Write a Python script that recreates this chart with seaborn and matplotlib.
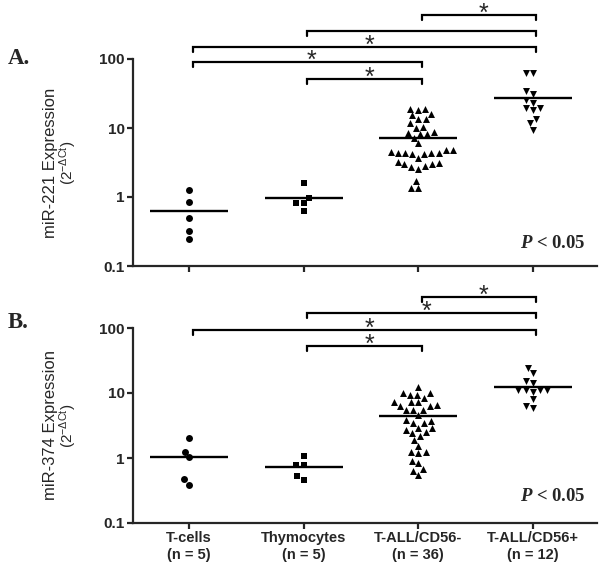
import numpy as np
import pandas as pd
import seaborn as sns
import matplotlib.pyplot as plt
from matplotlib.ticker import NullLocator
from matplotlib.transforms import blended_transform_factory

groups = ['T-cells', 'Thymocytes', 'T-ALL/CD56-', 'T-ALL/CD56+']
group_markers = ['o', 's', '^', 'v']

# miR-221 (panel A)
mir221_tcells = [1.26, 0.86, 0.49, 0.32, 0.25]
mir221_thymo = [1.6, 0.97, 0.83, 0.83, 0.62]
mir221_cd56neg = [19.1, 18.1, 19.1, 15.8, 15.3, 13.7, 13.4, 11.8, 10.1, 10.3,
                  8.7, 8.3, 8.3, 8.4, 7.2, 6.0, 4.38, 4.73, 4.38, 4.47,
                  4.23, 4.38, 4.23, 4.73, 4.38, 3.70, 3.03, 2.77, 3.09, 2.56,
                  3.19, 2.70, 2.96, 1.69, 1.35, 1.35]
mir221_cd56pos = [63.1, 61.9, 31.6, 34.5, 23.1, 25.3, 19.5, 18.1, 19.5, 13.7, 9.5, 11.8]

# miR-374 (panel B)
mir374_tcells = [2.0, 1.25, 1.02, 0.39, 0.47]
mir374_thymo = [0.78, 0.78, 1.07, 0.46, 0.52]
mir374_cd56neg = [12.2, 9.9, 9.3, 9.9, 9.3, 8.3, 7.3, 7.3, 6.5, 7.3,
                  6.2, 5.5, 5.5, 5.5, 6.2, 4.6, 3.85, 3.42, 3.75, 3.42,
                  2.93, 2.70, 2.54, 2.93, 2.18, 2.40, 1.89, 1.55, 1.25, 1.21,
                  1.25, 0.91, 0.83, 0.67, 0.64, 0.55]
mir374_cd56pos = [24, 20, 14.5, 15.5, 11, 11, 10.5, 11, 11, 8, 5.8, 6.4]

# significant comparisons (group index pairs), with / without star
pairs_a = [(2, 3, True), (1, 3, False), (0, 3, True), (0, 2, True), (1, 2, True)]
pairs_b = [(2, 3, True), (1, 3, True), (0, 3, True), (1, 2, True)]

sns.set_style('ticks')
plt.rcParams['font.family'] = ['Liberation Sans', 'DejaVu Sans']
plt.rcParams['mathtext.default'] = 'regular'


def draw_panel(ax, series, pairs, heights, mir, pval_y, show_labels):
    ax.set_yscale('log')
    ax.set_ylim(0.1, 100)
    for name, vals, m in zip(groups, series, group_markers):
        df = pd.DataFrame({'group': name, 'value': vals})
        sns.swarmplot(data=df, x='group', y='value', order=groups, marker=m,
                      color='black', size=5, linewidth=0, ax=ax)
    for i, vals in enumerate(series):
        ax.hlines(np.mean(vals), i - 0.34, i + 0.34, color='black', lw=1.7)

    ax.set_xlim(-0.49, 3.56)
    ax.set_yticks([0.1, 1, 10, 100])
    ax.set_yticklabels(['0.1', '1', '10', '100'], fontweight='bold', fontsize=11)
    ax.yaxis.set_minor_locator(NullLocator())
    ax.set_xticks(range(len(groups)))
    if show_labels:
        labs = [f'{g}\n(n = {len(v)})' for g, v in zip(groups, series)]
        ax.set_xticklabels(labs, fontweight='bold', fontsize=10.5)
    else:
        ax.set_xticklabels([])
    ax.set_xlabel('')
    ax.set_ylabel('')
    for s in ['top', 'right']:
        ax.spines[s].set_visible(False)
    for s in ['left', 'bottom']:
        ax.spines[s].set_linewidth(1.6)
    ax.tick_params(width=1.6, length=4, direction='out', pad=2)

    ax.text(-0.178, 0.5, f'miR-{mir} Expression', rotation=90, transform=ax.transAxes,
            ha='center', va='center', fontsize=12)
    ax.text(-0.140, 0.5, r'(2$^{-ΔCt}$)', rotation=90, transform=ax.transAxes,
            ha='center', va='center', fontsize=11)

    trans = blended_transform_factory(ax.transData, ax.transAxes)
    px = 1 / (ax.get_position().height * 574)
    for (i, j, star), h in zip(pairs, heights):
        ax.plot([i + 0.03, i + 0.03, j + 0.03, j + 0.03], [h - 5 * px, h, h, h - 5 * px],
                color='black', lw=1.6, transform=trans, clip_on=False,
                solid_joinstyle='miter')
        if star:
            ax.text((i + j) / 2 + 0.07, h - 6 * px, '*', transform=trans,
                    ha='center', va='baseline', fontsize=18)

    ax.text(0.975, pval_y, r'$\mathit{P}$ < 0.05', transform=ax.transAxes,
            ha='right', va='center', fontsize=13.5, fontweight='bold',
            family=['Liberation Serif'], math_fontfamily='custom')


plt.rcParams['mathtext.fontset'] = 'custom'
plt.rcParams['mathtext.it'] = 'Liberation Serif:italic:bold'

fig = plt.figure(figsize=(6, 5.74), dpi=100)
axA = fig.add_axes([133 / 600, 1 - 266 / 574, 464 / 600, 207 / 574])
axB = fig.add_axes([133 / 600, 1 - 523 / 574, 464 / 600, 195 / 574])

draw_panel(axA, [mir221_tcells, mir221_thymo, mir221_cd56neg, mir221_cd56pos],
           pairs_a, [1.213, 1.137, 1.059, 0.987, 0.903], '221', 0.111, False)
draw_panel(axB, [mir374_tcells, mir374_thymo, mir374_cd56neg, mir374_cd56pos],
           pairs_b, [1.161, 1.076, 0.990, 0.908], '374', 0.135, True)

fig.text(8 / 600, 1 - 58 / 574, 'A.', fontsize=16.5, fontweight='bold',
         family=['Liberation Serif'], ha='left', va='center')
fig.text(8 / 600, 1 - 323 / 574, 'B.', fontsize=16.5, fontweight='bold',
         family=['Liberation Serif'], ha='left', va='center')

fig.savefig('out.png', dpi=100)
